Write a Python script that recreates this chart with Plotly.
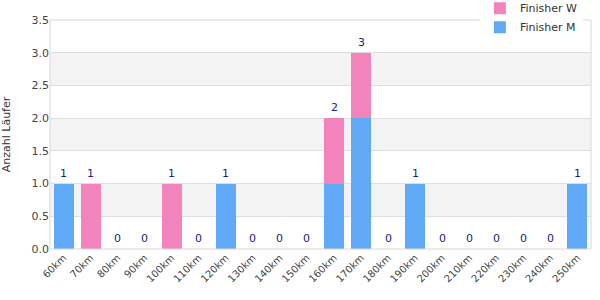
import plotly.graph_objects as go

categories = ["60km","70km","80km","90km","100km","110km","120km","130km","140km","150km",
              "160km","170km","180km","190km","200km","210km","220km","230km","240km","250km"]
finisher_m = [1,0,0,0,0,0,1,0,0,0,1,2,0,1,0,0,0,0,0,1]
finisher_w = [0,1,0,0,1,0,0,0,0,0,1,1,0,0,0,0,0,0,0,0]
totals = [m + w for m, w in zip(finisher_m, finisher_w)]

BLUE = "#60a9f6"
PINK = "#f383bb"
FONT = "DejaVu Sans"

fig = go.Figure()
fig.add_trace(go.Bar(x=categories, y=finisher_m, name="Finisher M",
                     marker=dict(color=BLUE, line=dict(width=0))))
fig.add_trace(go.Bar(x=categories, y=finisher_w, name="Finisher W",
                     marker=dict(color=PINK, line=dict(width=0))))

annotations = [dict(x=c, y=t, text=str(t), showarrow=False, yanchor="bottom", yshift=2,
                    font=dict(color="#1a1a8a", size=11, family=FONT))
               for c, t in zip(categories, totals)]

shapes = []
for lo in [0.5, 1.5, 2.5]:
    shapes.append(dict(type="rect", xref="paper", yref="y", x0=0, x1=1, y0=lo, y1=lo + 0.5,
                       fillcolor="#f3f3f3", line=dict(width=0), layer="below"))
shapes.append(dict(type="rect", xref="paper", yref="paper", x0=0, x1=1, y0=0, y1=1,
                   line=dict(color="#d8d8d8", width=1), fillcolor="rgba(0,0,0,0)", layer="above"))

fig.update_layout(
    width=600, height=300,
    margin=dict(l=50, r=9, t=20, b=51, autoexpand=False),
    barmode="stack", bargap=0.26,
    plot_bgcolor="white", paper_bgcolor="white",
    font=dict(family=FONT, size=11, color="#444444"),
    shapes=shapes,
    annotations=annotations,
    legend=dict(x=0.985, y=1.115, xanchor="right", yanchor="top", traceorder="reversed",
                bgcolor="white", font=dict(size=11, color="#333333"),
                itemwidth=30, tracegroupgap=0, borderwidth=0),
    yaxis=dict(range=[0, 3.5], dtick=0.5, tickformat=".1f", showgrid=True,
               gridcolor="#dedede", zeroline=False, showline=False,
               title=dict(text="Anzahl Läufer", font=dict(size=11, color="#333333"), standoff=24),
               ticks="", tickfont=dict(size=11, color="#444444")),
    xaxis=dict(tickangle=-45, showgrid=False, showline=False, ticks="",
               tickfont=dict(size=10, color="#444444")),
)

fig.write_html("out.html")
